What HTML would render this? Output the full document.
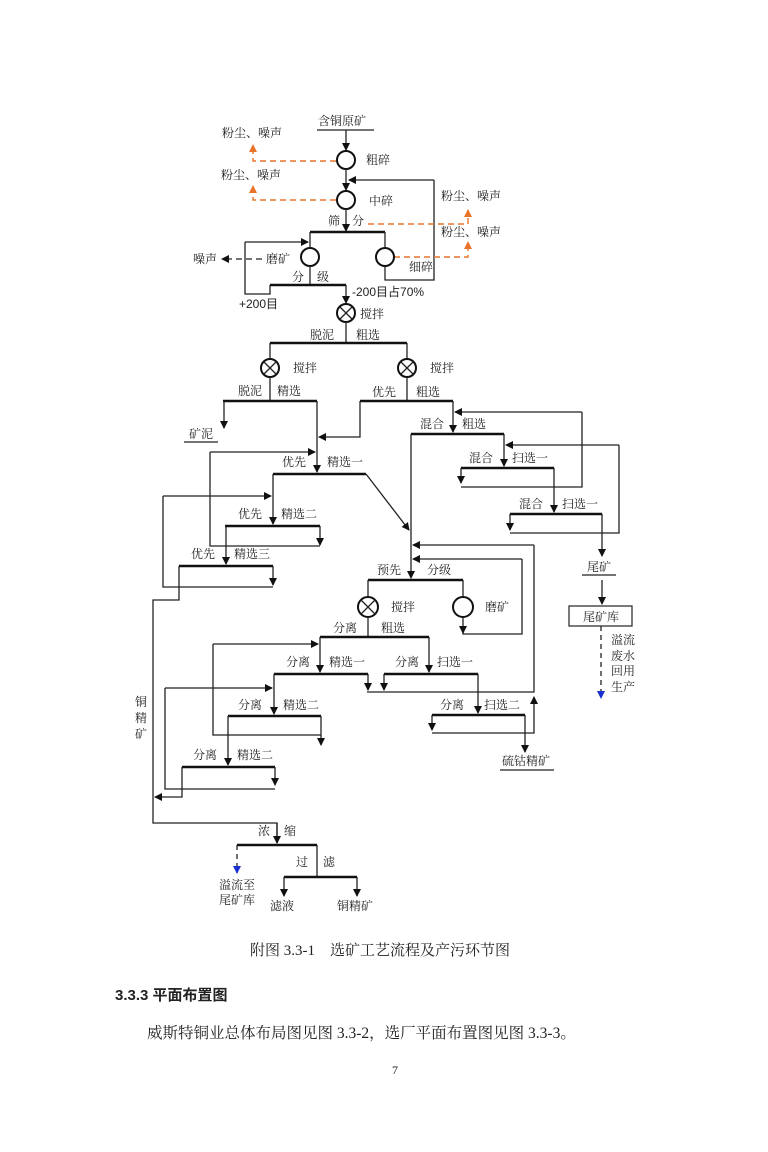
<!DOCTYPE html>
<html><head><meta charset="utf-8"><style>
body{margin:0;background:#fff;}
svg{display:block}
text{font-family:"Liberation Serif","Noto Serif CJK SC",serif;font-size:12px;fill:#222}
.l{stroke:#222;stroke-width:1.3;fill:none}
.b{stroke:#111;stroke-width:2.6;fill:none}
.o{stroke:#e8742a;stroke-width:1.4;fill:none;stroke-dasharray:6,4}
.c{stroke:#111;stroke-width:2;fill:#fff}
</style></head><body>
<svg width="768" height="1152" viewBox="0 0 768 1152" xmlns="http://www.w3.org/2000/svg">
<defs>
<marker id="a" markerWidth="8" markerHeight="8" refX="7" refY="4" orient="auto" markerUnits="userSpaceOnUse"><path d="M0,0L8,4L0,8z" fill="#111"/></marker>
<marker id="ao" markerWidth="8" markerHeight="9" refX="7" refY="4" orient="auto" markerUnits="userSpaceOnUse"><path d="M0,0L8,4L0,8z" fill="#e8742a"/></marker>
<marker id="ab" markerWidth="8" markerHeight="9" refX="7" refY="4" orient="auto" markerUnits="userSpaceOnUse"><path d="M0,0L8,4L0,8z" fill="#1a2fd0"/></marker>
</defs>

<!-- top crushing -->
<text x="318" y="125">含铜原矿</text>
<path class="l" d="M317,130H374" stroke-width="2"/>
<path class="l" d="M346,130V150" marker-end="url(#a)"/>
<circle class="c" cx="346" cy="160" r="9"/>
<text x="366" y="164">粗碎</text>
<path class="o" d="M336,161H253V145" marker-end="url(#ao)"/>
<text x="222" y="137">粉尘、噪声</text>
<path class="l" d="M346,169V190" marker-end="url(#a)"/>
<circle class="c" cx="346" cy="200" r="9"/>
<text x="369" y="205">中碎</text>
<path class="o" d="M336,200H253V186" marker-end="url(#ao)"/>
<text x="221" y="179">粉尘、噪声</text>
<path class="l" d="M434,180H349" marker-end="url(#a)"/>
<path class="l" d="M434,180V280H385V266"/>
<text x="328" y="225">筛</text><text x="352" y="225">分</text>
<path class="l" d="M346,209V231" marker-end="url(#a)"/>
<path class="o" d="M368,224H468V210" marker-end="url(#ao)"/>
<text x="441" y="200">粉尘、噪声</text>
<path class="o" d="M394,257H468V242" marker-end="url(#ao)"/>
<text x="441" y="236">粉尘、噪声</text>
<path class="b" d="M310,232H385" stroke-width="2.2"/>
<path class="l" d="M310,232V248M385,232V248"/>
<circle class="c" cx="310" cy="257" r="9"/>
<circle class="c" cx="385" cy="257" r="9"/>
<text x="409" y="271">细碎</text>
<text x="266" y="263">磨矿</text>
<path class="l" d="M262,259H222" stroke-dasharray="6,4" marker-end="url(#a)"/>
<text x="193" y="263">噪声</text>
<text x="292" y="281">分</text><text x="317" y="281">级</text>
<path class="l" d="M310,266V285"/>
<path class="l" d="M245,242H308" marker-end="url(#a)"/>
<path class="l" d="M245,242V294H270V285" />
<path class="b" d="M270,285H346" stroke-width="2"/>
<text x="239" y="308" style="font-family:'Liberation Sans',sans-serif">+200目</text>
<text x="352" y="296" style="font-family:'Liberation Sans',sans-serif">-200目占70%</text>
<path class="l" d="M346,285V303" marker-end="url(#a)"/>
<circle class="c" cx="346" cy="313" r="9"/><path class="l" d="M340,307L352,319M352,307L340,319" stroke-width="1.6"/>
<text x="360" y="318">搅拌</text>
<path class="l" d="M346,322V343"/>
<text x="310" y="339">脱泥</text><text x="356" y="339">粗选</text>
<path class="b" d="M270,343H407"/>
<path class="l" d="M270,343V359M407,343V359"/>
<circle class="c" cx="270" cy="368" r="9"/><path class="l" d="M264,362L276,374M276,362L264,374" stroke-width="1.6"/>
<circle class="c" cx="407" cy="368" r="9"/><path class="l" d="M401,362L413,374M413,362L401,374" stroke-width="1.6"/>
<text x="293" y="372">搅拌</text><text x="430" y="372">搅拌</text>
<path class="l" d="M270,377V401M407,377V401"/>
<text x="238" y="395">脱泥</text><text x="277" y="395">精选</text>
<text x="372" y="396">优先</text><text x="416" y="396">粗选</text>
<path class="b" d="M223,401H317"/>
<path class="b" d="M360,401H453"/>
<path class="l" d="M224,401V428" marker-end="url(#a)"/>
<text x="189" y="438">矿泥</text><path class="l" d="M184,442H218" stroke-width="2"/>
<path class="l" d="M360,401V437H319" marker-end="url(#a)"/>
<path class="l" d="M317,401V472" marker-end="url(#a)"/>

<!-- right mixed branch -->
<path class="l" d="M453,401V432" marker-end="url(#a)"/>
<path class="l" d="M582,412H455" marker-end="url(#a)"/>
<path class="l" d="M582,412V487H461"/>
<text x="420" y="428">混合</text><text x="462" y="428">粗选</text>
<path class="b" d="M411,434H504"/>
<path class="l" d="M504,434V466" marker-end="url(#a)"/>
<path class="l" d="M619,445H506" marker-end="url(#a)"/>
<path class="l" d="M619,445V533H510"/>
<text x="469" y="462">混合</text><text x="512" y="462">扫选一</text>
<path class="b" d="M461,468H554"/>
<path class="l" d="M461,468V483" marker-end="url(#a)"/>
<path class="l" d="M554,468V512" marker-end="url(#a)"/>
<text x="519" y="508">混合</text><text x="562" y="508">扫选一</text>
<path class="b" d="M510,514H602"/>
<path class="l" d="M510,514V530" marker-end="url(#a)"/>
<path class="l" d="M602,514V556" marker-end="url(#a)"/>
<text x="587" y="571">尾矿</text><path class="l" d="M582,575H616" stroke-width="2"/>
<path class="l" d="M602,580V604" marker-end="url(#a)"/>
<rect x="569" y="606" width="63" height="20" fill="#fff" stroke="#333" stroke-width="1.3"/>
<text x="583" y="621">尾矿库</text>
<path class="l" d="M601,626V698" stroke="#1a2fd0" stroke-dasharray="5,4" marker-end="url(#ab)"/>
<text x="611" y="644">溢流</text><text x="611" y="660">废水</text><text x="611" y="675">回用</text><text x="611" y="691">生产</text>

<!-- cleaning left -->
<path class="l" d="M411,434V578" marker-end="url(#a)"/>
<text x="282" y="466">优先</text><text x="327" y="466">精选一</text>
<path class="b" d="M273,474H366"/>
<path class="l" d="M366,474L409,530" marker-end="url(#a)"/>
<path class="l" d="M210,452H315" marker-end="url(#a)"/>
<path class="l" d="M210,452V546H320"/>
<path class="l" d="M273,474V524" marker-end="url(#a)"/>
<text x="238" y="518">优先</text><text x="281" y="518">精选二</text>
<path class="b" d="M225,526H320"/>
<path class="l" d="M320,526V545" marker-end="url(#a)"/>
<path class="l" d="M163,496H271" marker-end="url(#a)"/>
<path class="l" d="M163,496V587H273"/>
<path class="l" d="M226,526V564" marker-end="url(#a)"/>
<text x="191" y="558">优先</text><text x="234" y="558">精选三</text>
<path class="b" d="M179,566H273"/>
<path class="l" d="M273,566V585" marker-end="url(#a)"/>
<path class="l" d="M179,566V600H153V823H277V843"/>
<path class="l" d="M277,823V843" marker-end="url(#a)"/>
<text x="135" y="706">铜</text><text x="135" y="722">精</text><text x="135" y="738">矿</text>

<!-- pre-classification -->
<path class="l" d="M534,545H413" marker-end="url(#a)"/>
<path class="l" d="M534,545V692H367"/>
<path class="l" d="M522,559H413" marker-end="url(#a)"/>
<path class="l" d="M522,559V634H463V626"/>
<path class="l" d="M463,618V633" marker-end="url(#a)"/>
<text x="377" y="574">预先</text><text x="427" y="574">分级</text>
<path class="b" d="M368,580H463"/>
<path class="l" d="M368,580V598M463,580V598"/>
<circle class="c" cx="368" cy="607" r="10"/><path class="l" d="M361,600L375,614M375,600L361,614" stroke-width="1.6"/>
<circle class="c" cx="463" cy="607" r="10"/>
<text x="391" y="611">搅拌</text><text x="485" y="611">磨矿</text>
<path class="l" d="M368,617V637"/>
<text x="333" y="632">分离</text><text x="381" y="632">粗选</text>
<path class="b" d="M320,637H429"/>
<path class="l" d="M213,644H318" marker-end="url(#a)"/>
<path class="l" d="M213,644V735H321"/>
<path class="l" d="M320,637V672" marker-end="url(#a)"/>
<path class="l" d="M429,637V672" marker-end="url(#a)"/>
<text x="286" y="666">分离</text><text x="329" y="666">精选一</text>
<text x="395" y="666">分离</text><text x="437" y="666">扫选一</text>
<path class="b" d="M274,674H368"/>
<path class="b" d="M384,674H478"/>
<path class="l" d="M368,674V690" marker-end="url(#a)"/>
<path class="l" d="M384,674V690" marker-end="url(#a)"/>
<path class="l" d="M478,674V713" marker-end="url(#a)"/>
<text x="440" y="709">分离</text><text x="484" y="709">扫选二</text>
<path class="b" d="M432,715H525"/>
<path class="l" d="M432,715V730" marker-end="url(#a)"/>
<path class="l" d="M432,733H534V697" marker-end="url(#a)"/>
<path class="l" d="M525,715V752" marker-end="url(#a)"/>
<text x="502" y="765">硫钴精矿</text><path class="l" d="M500,770H554" stroke-width="2"/>
<path class="l" d="M165,688H272" marker-end="url(#a)"/>
<path class="l" d="M165,688V789H275"/>
<path class="l" d="M274,674V714" marker-end="url(#a)"/>
<text x="238" y="709">分离</text><text x="283" y="709">精选二</text>
<path class="b" d="M228,716H321"/>
<path class="l" d="M321,716V745" marker-end="url(#a)"/>
<path class="l" d="M228,716V765" marker-end="url(#a)"/>
<text x="193" y="759">分离</text><text x="237" y="759">精选二</text>
<path class="b" d="M182,767H275"/>
<path class="l" d="M275,767V785" marker-end="url(#a)"/>
<path class="l" d="M182,767V797H155" marker-end="url(#a)"/>

<!-- bottom -->
<text x="258" y="835">浓</text><text x="284" y="835">缩</text>
<path class="b" d="M237,845H317"/>
<path class="l" d="M237,845V873" stroke="#1a2fd0" stroke-dasharray="5,4" marker-end="url(#ab)"/>
<text x="219" y="889">溢流至</text><text x="219" y="904">尾矿库</text>
<path class="l" d="M317,845V876"/>
<text x="296" y="866">过</text><text x="323" y="866">滤</text>
<path class="b" d="M284,877H357"/>
<path class="l" d="M284,877V896" marker-end="url(#a)"/>
<path class="l" d="M357,877V896" marker-end="url(#a)"/>
<text x="270" y="910">滤液</text><text x="337" y="910">铜精矿</text>

<text x="250" y="955" style="font-size:15px">附图 3.3-1　选矿工艺流程及产污环节图</text>
<text x="115" y="1000" style="font-size:15px;font-family:'Liberation Sans','Noto Sans CJK SC',sans-serif;font-weight:bold">3.3.3  平面布置图</text>
<text x="147" y="1038" style="font-size:15.5px">威斯特铜业总体布局图见图 3.3-2，选厂平面布置图见图 3.3-3。</text>
<text x="392" y="1074" style="font-size:12px">7</text>
</svg>
</body></html>
